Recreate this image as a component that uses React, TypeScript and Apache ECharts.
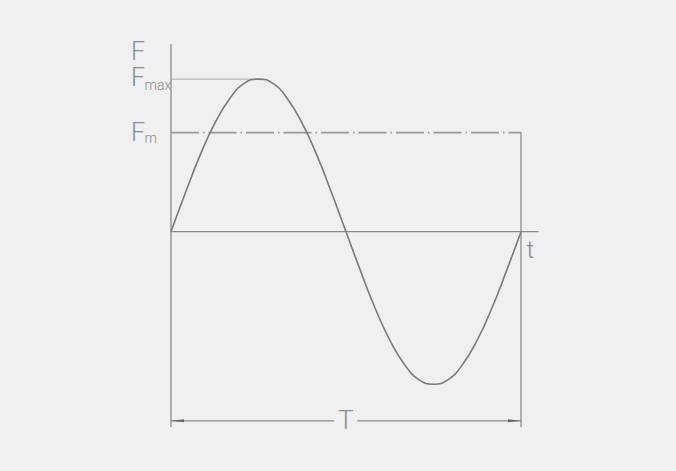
import React, { useEffect, useRef } from "react";
import * as echarts from "echarts";

// Curve: time as fraction of period T, force as fraction of Fmax
const T_FRAC = [0, 0.042, 0.083, 0.125, 0.167, 0.208, 0.25, 0.292, 0.333, 0.375, 0.417, 0.458, 0.5,
  0.542, 0.583, 0.625, 0.667, 0.708, 0.75, 0.792, 0.833, 0.875, 0.917, 0.958, 1];
const F_VALUES = [0, 0.26, 0.5, 0.71, 0.87, 0.97, 1, 0.97, 0.87, 0.71, 0.5, 0.26, 0,
  -0.26, -0.5, -0.71, -0.87, -0.97, -1, -0.97, -0.87, -0.71, -0.5, -0.26, 0];
const F_MAX = 1;
const F_MEAN = 0.65;
const PEAK_T = 0.25;
const PERIOD_END = 1;

// Drawing extents (data units)
const AXIS_TOP = 1.23;
const AXIS_BOTTOM = -1.28;
const T_AXIS_END = 1.05;
const DIM_Y = -1.24;
const DIM_GAP_LEFT = 0.466;
const DIM_GAP_RIGHT = 0.532;

const LABEL_F = "F";
const LABEL_FMAX_SUB = "max";
const LABEL_FM_SUB = "m";
const LABEL_t = "t";
const LABEL_T = "T";

const LINE = "#8a8a8a";
const CURVE = "#7a7a7a";
const TEXT = "#8c8c8c";
const FONT = "Roboto, 'DejaVu Sans', sans-serif";

export default function App() {
  const ref = useRef<HTMLDivElement>(null);
  useEffect(() => {
    if (!ref.current) return;
    const chart = echarts.init(ref.current, null, { renderer: "svg" });
    const seg = (pts: number[][], color: string, width: number, type: any = "solid", z = 2) => ({
      type: "line",
      data: pts,
      symbol: "none",
      silent: true,
      z,
      lineStyle: { color, width, type },
    });
    const curve = T_FRAC.map((t, i) => [t, F_VALUES[i]]);
    chart.setOption({
      animation: false,
      backgroundColor: "#f0f0f0",
      grid: { left: 171, right: 120, top: 41, bottom: 41 },
      xAxis: { type: "value", min: 0, max: 1.1, show: false },
      yAxis: { type: "value", min: -1.3, max: 1.25, show: false },
      series: [
        seg([[0, AXIS_TOP], [0, AXIS_BOTTOM]], LINE, 1.3),
        seg([[0, 0], [T_AXIS_END, 0]], LINE, 1.3),
        seg([[0, F_MAX], [PEAK_T, F_MAX]], "#a8a8a8", 1),
        seg([[0, F_MEAN], [PERIOD_END, F_MEAN]], "#999999", 1.8, [28, 4, 1.5, 4]),
        seg([[PERIOD_END, F_MEAN], [PERIOD_END, AXIS_BOTTOM]], LINE, 1.3),
        {
          type: "line",
          data: curve,
          smooth: true,
          symbol: "none",
          silent: true,
          z: 3,
          lineStyle: { color: CURVE, width: 1.6 },
        },
        {
          type: "line",
          silent: true,
          showSymbol: true,
          symbolKeepAspect: false,
          itemStyle: { color: "#666" },
          lineStyle: { color: LINE, width: 1.2 },
          data: [
            { value: [0, DIM_Y], symbol: "path://M0 5 L20 0 L20 10 Z", symbolSize: [13, 3], symbolOffset: [6.5, 0] },
            { value: [DIM_GAP_LEFT, DIM_Y], symbol: "none" },
          ],
        },
        {
          type: "line",
          silent: true,
          showSymbol: true,
          symbolKeepAspect: false,
          itemStyle: { color: "#666" },
          lineStyle: { color: LINE, width: 1.2 },
          data: [
            { value: [DIM_GAP_RIGHT, DIM_Y], symbol: "none" },
            { value: [PERIOD_END, DIM_Y], symbol: "path://M20 5 L0 0 L0 10 Z", symbolSize: [13, 3], symbolOffset: [-6.5, 0] },
          ],
        },
      ],
    });
    const px = (x: number, y: number) => chart.convertToPixel({ gridIndex: 0 }, [x, y]) as number[];
    const o = px(0, 0);
    const top = px(0, AXIS_TOP);
    const fmax = px(0, F_MAX);
    const fm = px(0, F_MEAN);
    const tEnd = px(T_AXIS_END, 0);
    const dim = px((DIM_GAP_LEFT + DIM_GAP_RIGHT) / 2, DIM_Y);
    const txt = (text: string, x: number, y: number, size: number, lh: number, align = "left") => ({
      type: "text",
      x,
      y,
      silent: true,
      style: {
        text,
        fill: TEXT,
        fontSize: size,
        lineHeight: lh,
        fontFamily: FONT,
        fontWeight: 300,
        align,
        verticalAlign: "middle",
      },
    });
    chart.setOption({
      graphic: [
        txt(LABEL_F, o[0] - 40, top[1] + 7, 25, 20),
        txt(LABEL_F, o[0] - 40, fmax[1] - 1.5, 25, 20),
        txt(LABEL_FMAX_SUB, o[0] - 26.5, fmax[1] + 5.5, 14, 12),
        txt(LABEL_F, o[0] - 40, fm[1], 25, 20),
        txt(LABEL_FM_SUB, o[0] - 26.5, fm[1] + 5, 14, 12),
        txt(LABEL_t, tEnd[0] - 12, o[1] + 18, 24, 18),
        txt(LABEL_T, dim[0], dim[1] - 1, 26, 20, "center"),
      ],
    });
    return () => chart.dispose();
  }, []);
  return (
    <div
      ref={ref}
      style={{ position: "fixed", left: 0, top: 0, width: 676, height: 471, background: "#f0f0f0" }}
    />
  );
}
